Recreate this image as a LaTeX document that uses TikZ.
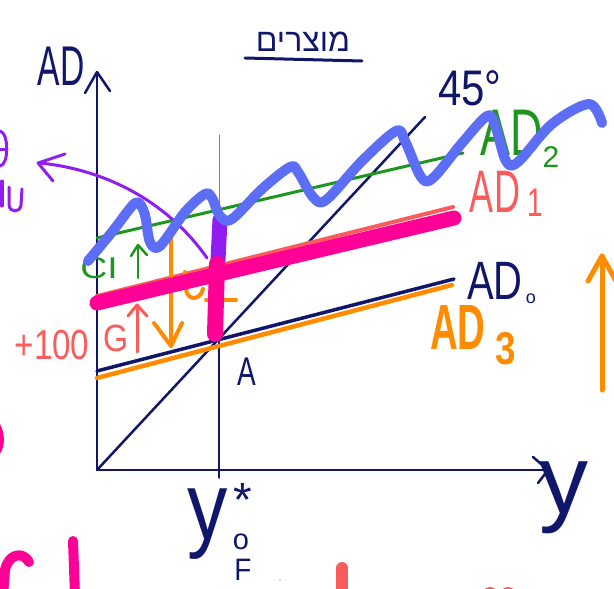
\documentclass[tikz,border=0pt]{standalone}
\usepackage{fontspec}
\setmainfont{Liberation Sans}
\newfontfamily\hebfont[Script=Hebrew]{Liberation Sans}
\TeXXeTstate=1
\definecolor{navy}{RGB}{16,22,105}
\definecolor{grn}{RGB}{30,150,30}
\definecolor{salmon}{RGB}{250,92,92}
\definecolor{hotpink}{RGB}{255,0,150}
\definecolor{orng}{RGB}{255,140,0}
\definecolor{wave}{RGB}{92,110,245}
\definecolor{violet}{RGB}{145,30,240}
\newcommand{\hw}[3]{\fontsize{#1}{#1}\selectfont\scalebox{#2}[1]{#3}}
\begin{document}
\begin{tikzpicture}[x=1pt,y=-1pt,line cap=round,line join=round,
  lbl/.style={inner sep=0pt,outer sep=0pt},
  pen/.style={line width=2.5pt}]
\useasboundingbox (0,0) rectangle (614,589);
% title
\node[lbl,navy] (title) at (303,42) {\hebfont\fontsize{32}{32}\selectfont\beginR מוצרים\endR};
\draw[navy,line width=3pt] (245,58) -- (362,61);
% axes
\coordinate (O) at (97,470);
\coordinate (ytop) at (97,72);
\coordinate (xend) at (548,470);
\draw[navy,pen] (O) -- (ytop);
\draw[navy,pen] (85,93) -- (ytop) -- (110,91);
\draw[navy,pen] (O) -- (xend);
\draw[navy,pen] (533,457) -- (xend) -- (538,483);
\node[lbl,navy] (ADlab) at (61,66) {\hw{56}{0.6}{AD}};
\node[lbl,navy] (ylab) at (564,498) {\hw{98}{1.0}{y}};
% 45 degree line
\coordinate (d45) at (425,117);
\draw[navy,pen] (O) -- (d45);
\node[lbl,navy] (deg) at (470,88) {\hw{50}{0.84}{45°}};
% y0* vertical
\coordinate (A) at (219,340);
\draw[navy!55,line width=1pt] (219,135) -- (219,262);
\draw[navy,line width=1.4pt] (219,262) -- (219,478);
\node[lbl,navy] (ystar) at (208,524) {\hw{96}{0.84}{y}};
\node[lbl,navy] (star) at (243,500) {\raisebox{-0.3em}{\hw{48}{1}{*}}};
\node[lbl,navy] (sub0) at (241,542) {\hw{29}{1}{o}};
\node[lbl,navy] (subF) at (243,570) {\hw{31}{0.9}{F}};
\node[lbl,navy] (Alab) at (247,372) {\hw{40}{0.7}{A}};
% AD0 and AD3
\draw[navy,line width=3.5pt] (97,371) -- (454,279);
\draw[orng,line width=4.5pt] (97,378) -- (452,285);
\node[lbl,navy] (AD0) at (495,281) {\hw{54}{0.74}{AD}};
\node[lbl,navy] (AD0s) at (531,299) {\hw{18}{1}{o}};
\node[lbl,orng] (AD3) at (458,327) {\bfseries\hw{64}{0.6}{AD}};
\node[lbl,orng] (AD3s) at (506,349) {\bfseries\hw{46}{0.8}{3}};
% AD1
\draw[salmon,line width=4pt] (97,296) -- (453,207);
\node[lbl,salmon] (AD1) at (495,192) {\hw{60}{0.6}{AD}};
\node[lbl,salmon] (AD1s) at (535,203) {\hw{40}{0.7}{1}};
% AD2
\draw[grn,line width=3pt] (97,238) -- (463,153);
\node[lbl,grn] (AD2) at (512,133) {\hw{66}{0.68}{AD}};
\node[lbl,grn] (AD2s) at (551,157) {\hw{30}{1}{2}};
% left labels
\node[lbl,grn] (CI) at (99,268) {\hw{30}{1.25}{CI}};
\draw[grn,pen] (138,278) -- (138,245);
\draw[grn,pen] (131,256) -- (138,245) -- (147,255);
\node[lbl,salmon] (plus) at (52,345) {\hw{42}{0.79}{+100}};
\node[lbl,salmon] (G) at (116,338) {\hw{38}{0.85}{G}};
\draw[salmon,line width=3pt] (137,352) -- (137,305);
\draw[salmon,line width=3pt] (128,316) -- (137,305) -- (147,316);
% orange down arrow and mark
\draw[orng,line width=4pt] (171,237) -- (171,346);
\draw[orng,line width=4pt] (154,323) -- (171,346) -- (182,323);
\draw[orng,line width=4pt] (185,272) -- (186,289) .. controls (187,301) and (200,301) .. (203,289);
\draw[orng,line width=4pt] (206,300) -- (236,300);
% purple arc
\draw[violet,line width=3pt] (207,258) .. controls (170,205) and (110,170) .. (40,163);
\draw[violet,line width=3pt] (65,154) -- (38,163) -- (53,181);
\draw[violet,line width=3pt] (0,131) .. controls (9,133) and (9,165) .. (0,166);
\draw[violet,line width=3pt] (-2,149) -- (7,149);
\draw[violet,line width=3pt] (2,181) -- (2,206);
\draw[violet,line width=3pt] (9,187) -- (9,205) .. controls (10,213) and (20,213) .. (21,205) -- (22,189);
% purple and pink marks
\draw[violet,line width=15pt] (220,220) -- (218,260);
\draw[hotpink,line width=16pt] (217,264) -- (215,334);
\draw[hotpink,line width=15pt] (97,303) -- (454,218);
% right orange arrow
\draw[orng,line width=5pt] (602,390) -- (602,256);
\draw[orng,line width=5pt] (588,281) -- (602,256) -- (616,281);
% fragments at edges
\draw[hotpink,line width=7pt] (-7,420) .. controls (2,430) and (2,445) .. (-3,452);
\draw[hotpink,line width=10pt] (3,595) -- (5,570) .. controls (8,555) and (22,550) .. (29,562);
\draw[hotpink,line width=10pt] (73,541) -- (75,595);
\draw[salmon,line width=12pt] (342,568) -- (342,600);
\fill[salmon] (490,595) circle (8);
\fill[salmon] (508,595) circle (8);
\fill[gray!60] (280,580) circle (0.8);
% blue wave
\draw[wave,line width=10pt] plot[smooth,tension=0.55] coordinates {
 (88,261) (112,232) (132,206) (139,203) (145,215) (150,242) (160,246)
 (185,212) (205,194) (212,198) (220,216) (232,219) (262,189) (290,167)
 (298,172) (313,197) (326,200) (362,161) (396,131) (405,141) (421,177)
 (433,178) (462,143) (487,116) (495,125) (506,161) (518,162) (552,124)
 (589,104) (602,123)};
\end{tikzpicture}
\end{document}
